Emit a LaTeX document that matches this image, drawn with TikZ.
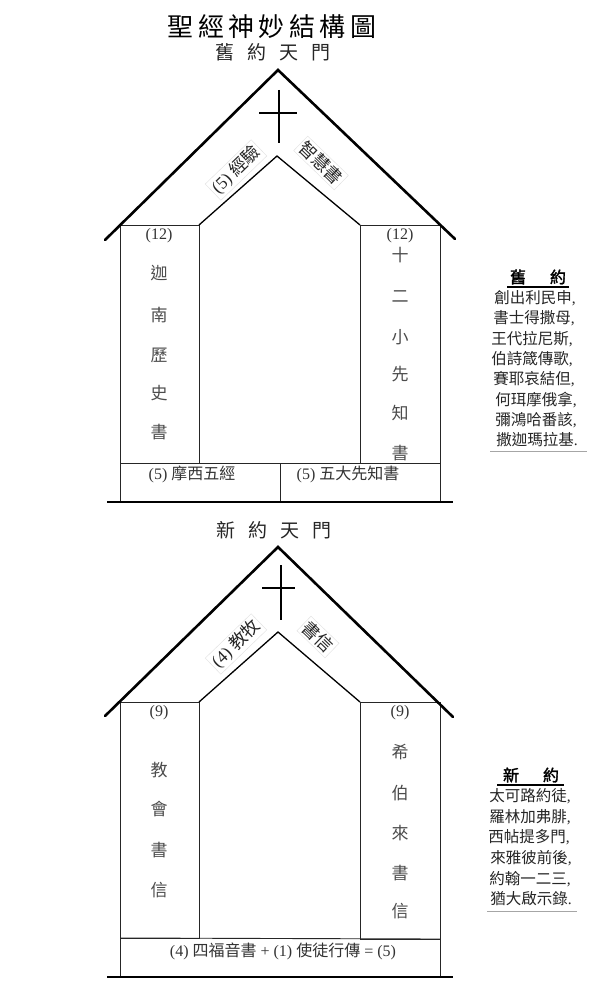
\documentclass[tikz,border=0pt]{standalone}
\usepackage{fontspec}
\setmainfont{Liberation Serif}
\newfontfamily\cjk{Noto Sans CJK TC}
\newfontfamily\cjkb[FakeBold=2]{Noto Sans CJK TC}
\newcommand{\zh}[1]{{\cjk #1}}
\begin{document}
\begin{tikzpicture}[x=1pt,y=-1pt,
  roof/.style={line width=2.6pt, line cap=round},
  inroof/.style={line width=1.3pt},
  wall/.style={line width=0.9pt, black!85},
  ground/.style={line width=1.8pt},
  crossl/.style={line width=2.8pt},
  titletext/.style={font=\cjk\fontsize{26}{26}\selectfont, inner sep=0pt},
  gatetext/.style={font=\cjk\fontsize{19}{19}\selectfont, inner sep=0pt, text=black!85},
  rlabel/.style={draw=black!12, fill=white, inner sep=2pt, font=\fontsize{17.5}{17.5}\selectfont, text=black!85},
  coltext/.style={font=\cjk\fontsize{17}{17}\selectfont, text=black!70, inner sep=0pt},
  numtext/.style={font=\fontsize{16}{16}\selectfont, text=black!80, inner sep=0pt},
  basetext/.style={font=\fontsize{16}{16}\selectfont, text=black!80, inner sep=0pt},
  listtext/.style={font=\fontsize{15.5}{15.5}\selectfont, text=black!85, inner sep=0pt},
  listhead/.style={font=\cjkb\fontsize{16}{16}\selectfont, inner sep=0pt},
  rule/.style={line width=0.6pt, black!35}
]
\fill[white] (0,0) rectangle (605,1003);
\useasboundingbox (0,0) rectangle (605,1003);

% ---------- titles ----------
\node[titletext] (title) at (272,27) {聖\hspace{4.5pt}經\hspace{4.5pt}神\hspace{4.5pt}妙\hspace{4.5pt}結\hspace{4.5pt}構\hspace{4.5pt}圖};
\node[gatetext] (otgate) at (273,52) {舊\hspace{13pt}約\hspace{13pt}天\hspace{13pt}門};

% ---------- Old Testament house ----------
\coordinate (a1) at (278,70);
\coordinate (rl1) at (105,240);
\coordinate (rr1) at (455,239);
\coordinate (wl1) at (120,225);
\coordinate (wr1) at (440,225);
\coordinate (ia1) at (277,156);
\coordinate (il1) at (199,225);
\coordinate (ir1) at (360,225);
\coordinate (bl1) at (120,502);
\coordinate (br1) at (440,502);

\draw[wall] (wl1) -- (bl1);
\draw[wall] (wr1) -- (br1);
\draw[wall] (wl1) rectangle (199,463);
\draw[wall] (ir1) rectangle (440,463);
\draw[wall] (120,463) -- (440,463);
\draw[wall] (280,463) -- (280,502);
\draw[inroof] (il1) -- (ia1) -- (ir1);
\draw[roof] (rl1) -- (a1) -- (rr1);
\draw[ground] (107,502) -- (453,502);
\draw[crossl] (279,90) -- (279,143);
\draw[crossl] (259,113) -- (297,113);

\node[rlabel, rotate=44] (exp) at (236,170) {(5) \zh{經驗}};
\node[rlabel, rotate=-44] (wis) at (321,163) {\zh{智慧書}};

\node[numtext] (ln1) at (159,236) {(12)};
\foreach \c/\y [count=\i] in {迦/273, 南/315, 歷/355, 史/393, 書/432}
  \node[coltext] (lc1\i) at (159,\y) {\c};
\node[numtext] (rn1) at (400,236) {(12)};
\foreach \c/\y [count=\i] in {十/255, 二/297, 小/337, 先/374, 知/413, 書/453}
  \node[coltext] (rc1\i) at (400,\y) {\c};

\node[basetext] (moses) at (192,474) {(5) \zh{摩西五經}};
\node[basetext] (prophets) at (348,474) {(5) \zh{五大先知書}};

% ---------- Old Testament list ----------
\node[listhead] (othead) at (538,277) {舊\hspace{24pt}約};
\draw[line width=1.1pt] (507,287) -- (569,287);
\node[listtext] (ot1) at (535,298) {\zh{創出利民申},};
\node[listtext] (ot2) at (534,318) {\zh{書士得撒母},};
\node[listtext] (ot3) at (532,339) {\zh{王代拉尼斯},};
\node[listtext] (ot4) at (532,359) {\zh{伯詩箴傳歌},};
\node[listtext] (ot5) at (534,379) {\zh{賽耶哀結但},};
\node[listtext] (ot6) at (536,400) {\zh{何珥摩俄拿},};
\node[listtext] (ot7) at (536,420) {\zh{彌鴻哈番該},};
\node[listtext] (ot8) at (537,440) {\zh{撒迦瑪拉基}.};
\draw[rule] (490,451) -- (587,451);

% ---------- New Testament house ----------
\node[gatetext] (ntgate) at (274,530) {新\hspace{13pt}約\hspace{13pt}天\hspace{13pt}門};

\coordinate (a2) at (278,547);
\coordinate (rl2) at (105,716);
\coordinate (rr2) at (453,717);
\coordinate (wl2) at (120,702);
\coordinate (wr2) at (440,702);
\coordinate (ia2) at (278,632);
\coordinate (il2) at (199,702);
\coordinate (ir2) at (360,702);
\coordinate (bl2) at (120,977);
\coordinate (br2) at (440,977);

\draw[wall] (wl2) -- (bl2);
\draw[wall] (wr2) -- (br2);
\draw[wall] (wl2) rectangle (199,938);
\draw[wall] (ir2) rectangle (440,939);
\draw[wall] (120,938) -- (440,939);
\draw[inroof] (il2) -- (ia2) -- (ir2);
\draw[roof] (rl2) -- (a2) -- (rr2);
\draw[ground] (107,977) -- (453,977);
\draw[crossl] (281,565) -- (281,620);
\draw[crossl] (262,588) -- (295,588);

\node[rlabel, rotate=44] (pas) at (236,644) {(4) \zh{教牧}};
\node[rlabel, rotate=-44] (let) at (318,637) {\zh{書信}};

\node[numtext] (ln2) at (159,713) {(9)};
\foreach \c/\y [count=\i] in {教/770, 會/809, 書/850, 信/890}
  \node[coltext] (lc2\i) at (159,\y) {\c};
\node[numtext] (rn2) at (400,713) {(9)};
\foreach \c/\y [count=\i] in {希/752, 伯/793, 來/833, 書/873, 信/911}
  \node[coltext] (rc2\i) at (400,\y) {\c};

\node[basetext] (gospels) at (283,951) {(4) \zh{四福音書} + (1) \zh{使徒行傳} = (5)};

% ---------- New Testament list ----------
\node[listhead] (nthead) at (531,775) {新\hspace{24pt}約};
\draw[line width=1.1pt] (497,785) -- (564,785);
\node[listtext] (nt1) at (530,796) {\zh{太可路約徒},};
\node[listtext] (nt2) at (530,817) {\zh{羅林加弗腓},};
\node[listtext] (nt3) at (529,837) {\zh{西帖提多門},};
\node[listtext] (nt4) at (531,858) {\zh{來雅彼前後},};
\node[listtext] (nt5) at (530,879) {\zh{約翰一二三},};
\node[listtext] (nt6) at (531,899) {\zh{猶大啟示錄}.};
\draw[rule] (487,911) -- (577,911);
\end{tikzpicture}
\end{document}
